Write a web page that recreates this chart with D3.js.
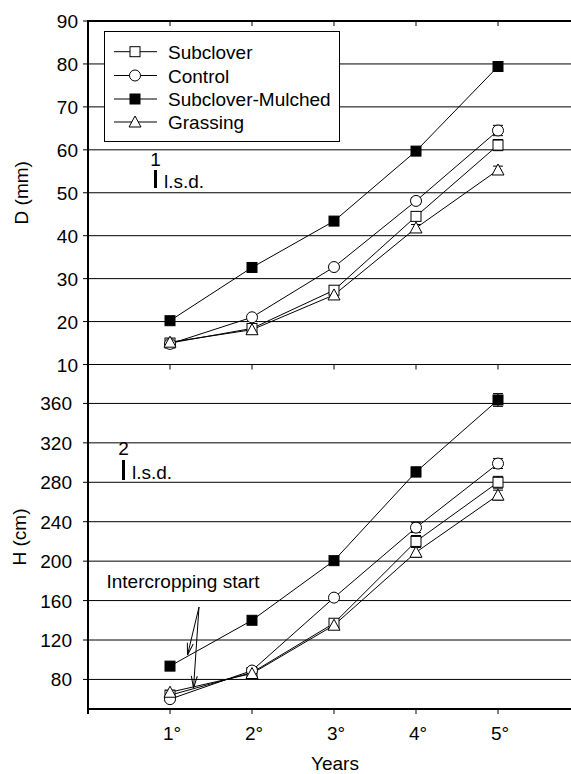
<!DOCTYPE html>
<html>
<head>
<meta charset="utf-8">
<script src="https://cdn.jsdelivr.net/npm/d3@7"></script>
<style>
  html, body { margin: 0; padding: 0; background: #fff; }
  svg { display: block; font-family: "Liberation Sans", Arial, sans-serif; }
</style>
</head>
<body>
<svg id="chart" width="571" height="774"></svg>
<script>
// ---------- DATA ----------
const years = ["1°", "2°", "3°", "4°", "5°"];
const seriesNames = ["Subclover", "Control", "Subclover-Mulched", "Grassing"];
const seriesMarkers = ["square", "circle", "filledSquare", "triangle"];

const dTicks = [10, 20, 30, 40, 50, 60, 70, 80, 90];
const D_subclover = [15.0, 18.4, 27.3, 44.5, 61.1];
const D_control   = [14.8, 21.0, 32.7, 48.1, 64.5];
const D_mulched   = [20.2, 32.6, 43.4, 59.7, 79.4];
const D_grassing  = [15.2, 18.1, 26.2, 41.8, 55.3];
const D_err_subclover = [0.3, 0.3, 0.5, 1.0, 1.3];
const D_err_control   = [0.3, 0.3, 0.5, 0.8, 1.2];
const D_err_mulched   = [0.4, 0.5, 0.6, 0.7, 1.1];
const D_err_grassing  = [0.3, 0.3, 0.5, 0.8, 0.9];

const hTicks = [80, 120, 160, 200, 240, 280, 320, 360];
const H_subclover = [64, 87, 137, 220, 280];
const H_control   = [60, 89, 163, 234, 299];
const H_mulched   = [93.5, 140, 200.5, 290.5, 363.5];
const H_grassing  = [67, 86, 135, 209, 267];
const H_err_subclover = [2, 2, 3, 6, 6];
const H_err_control   = [2, 2, 2, 5, 5];
const H_err_mulched   = [3, 3, 3, 5, 6.5];
const H_err_grassing  = [2, 2, 3, 5, 5];

const lsdD = 1;   // l.s.d. bar values
const lsdH = 2;

// ---------- LAYOUT ----------
const svg = d3.select("#chart");
const left = 88, right = 580;
const x = d3.scaleLinear().domain([0, 6]).range([left, right]);
const yD = d3.scaleLinear().domain([10, 90]).range([364.5, 21]);
const yH = d3.scaleLinear().domain([50, 400]).range([709, 364]);

const FONT = 19;

// grid lines
svg.append("g").selectAll("line").data(dTicks.slice(1, -1)).join("line")
  .attr("x1", left).attr("x2", right)
  .attr("y1", d => yD(d)).attr("y2", d => yD(d))
  .attr("stroke", "#000").attr("stroke-width", 1);
svg.append("g").selectAll("line").data(hTicks).join("line")
  .attr("x1", left).attr("x2", right)
  .attr("y1", d => yH(d)).attr("y2", d => yH(d))
  .attr("stroke", "#000").attr("stroke-width", 1);
// panel separator (D=10 / H=400)
svg.append("line").attr("x1", left).attr("x2", right)
  .attr("y1", yD(10)).attr("y2", yD(10)).attr("stroke", "#000").attr("stroke-width", 1.2);

// top border & bottom axis
svg.append("line").attr("x1", left).attr("x2", right)
  .attr("y1", yD(90)).attr("y2", yD(90)).attr("stroke", "#000").attr("stroke-width", 2);
svg.append("line").attr("x1", left).attr("x2", right)
  .attr("y1", yH(50)).attr("y2", yH(50)).attr("stroke", "#000").attr("stroke-width", 2);
// left axis
svg.append("line").attr("x1", left).attr("x2", left)
  .attr("y1", yD(90) - 1).attr("y2", yH(50) + 5).attr("stroke", "#000").attr("stroke-width", 2);

// y tick marks and labels
svg.append("g").selectAll("line").data(dTicks).join("line")
  .attr("x1", left - 5).attr("x2", left)
  .attr("y1", d => yD(d)).attr("y2", d => yD(d)).attr("stroke", "#000");
svg.append("g").selectAll("text").data(dTicks).join("text")
  .attr("x", 78).attr("y", d => yD(d) + 7)
  .attr("text-anchor", "end").attr("font-size", FONT).text(d => d);
svg.append("g").selectAll("line").data(hTicks).join("line")
  .attr("x1", left - 5).attr("x2", left)
  .attr("y1", d => yH(d)).attr("y2", d => yH(d)).attr("stroke", "#000");
svg.append("g").selectAll("text").data(hTicks).join("text")
  .attr("x", 72).attr("y", d => yH(d) + 7)
  .attr("text-anchor", "end").attr("font-size", FONT).text(d => d);

// x tick marks
const xi = years.map((_, i) => i + 1);
svg.append("g").selectAll("line").data(xi).join("line")
  .attr("x1", d => x(d)).attr("x2", d => x(d))
  .attr("y1", yD(90)).attr("y2", yD(90) + 5).attr("stroke", "#000");
svg.append("g").selectAll("line").data(xi).join("line")
  .attr("x1", d => x(d)).attr("x2", d => x(d))
  .attr("y1", yD(10)).attr("y2", yD(10) + 5).attr("stroke", "#000");
svg.append("g").selectAll("line").data(xi).join("line")
  .attr("x1", d => x(d)).attr("x2", d => x(d))
  .attr("y1", yH(50)).attr("y2", yH(50) + 5).attr("stroke", "#000");
svg.append("g").selectAll("text").data(years).join("text")
  .attr("x", (d, i) => x(i + 1) + 2).attr("y", 740)
  .attr("text-anchor", "middle").attr("font-size", FONT).text(d => d);

// axis titles
svg.append("text").attr("transform", `translate(28,${yD(50)}) rotate(-90)`)
  .attr("text-anchor", "middle").attr("font-size", FONT).text("D (mm)");
svg.append("text").attr("transform", `translate(26,537) rotate(-90)`)
  .attr("text-anchor", "middle").attr("font-size", FONT).text("H (cm)");
svg.append("text").attr("x", 335).attr("y", 770)
  .attr("text-anchor", "middle").attr("font-size", FONT).text("Years");

// ---------- MARKERS ----------
function drawMarker(g, type, cx, cy) {
  if (type === "square" || type === "filledSquare") {
    g.append("rect").attr("x", cx - 5).attr("y", cy - 5).attr("width", 10).attr("height", 10)
      .attr("fill", type === "filledSquare" ? "#000" : "#fff").attr("stroke", "#000").attr("stroke-width", 1);
  } else if (type === "circle") {
    g.append("circle").attr("cx", cx).attr("cy", cy).attr("r", 5.5)
      .attr("fill", "#fff").attr("stroke", "#000").attr("stroke-width", 1);
  } else if (type === "triangle") {
    g.append("path").attr("d", `M${cx},${cy - 6} L${cx + 6},${cy + 5} L${cx - 6},${cy + 5} Z`)
      .attr("fill", "#fff").attr("stroke", "#000").attr("stroke-width", 1);
  }
}

function drawPanel(yScale, valuesList, errList) {
  const line = d3.line().x((d, i) => x(i + 1)).y(d => yScale(d));
  const g = svg.append("g");
  valuesList.forEach((vals, s) => {
    g.append("path").attr("d", line(vals)).attr("fill", "none")
      .attr("stroke", "#000").attr("stroke-width", 1);
  });
  valuesList.forEach((vals, s) => {
    const errs = errList[s];
    vals.forEach((v, i) => {
      const cx = x(i + 1);
      const y1 = yScale(v + errs[i]), y0 = yScale(v - errs[i]);
      g.append("line").attr("x1", cx).attr("x2", cx).attr("y1", y1).attr("y2", y0).attr("stroke", "#000");
      g.append("line").attr("x1", cx - 5).attr("x2", cx + 5).attr("y1", y1).attr("y2", y1).attr("stroke", "#000");
      g.append("line").attr("x1", cx - 5).attr("x2", cx + 5).attr("y1", y0).attr("y2", y0).attr("stroke", "#000");
    });
  });
  valuesList.forEach((vals, s) => {
    vals.forEach((v, i) => drawMarker(g, seriesMarkers[s], x(i + 1), yScale(v)));
  });
}

drawPanel(yD, [D_subclover, D_control, D_mulched, D_grassing],
  [D_err_subclover, D_err_control, D_err_mulched, D_err_grassing]);
drawPanel(yH, [H_subclover, H_control, H_mulched, H_grassing],
  [H_err_subclover, H_err_control, H_err_mulched, H_err_grassing]);

// ---------- LEGEND ----------
const lg = svg.append("g");
lg.append("rect").attr("x", 104.5).attr("y", 31.5).attr("width", 235).attr("height", 110)
  .attr("fill", "#fff").attr("stroke", "#000").attr("stroke-width", 1);
const rowY = [51.7, 75.5, 99, 122];
seriesNames.forEach((name, s) => {
  const ry = rowY[s];
  lg.append("line").attr("x1", 114).attr("x2", 157).attr("y1", ry).attr("y2", ry).attr("stroke", "#000");
  drawMarker(lg, seriesMarkers[s], 135, ry);
  lg.append("text").attr("x", 168).attr("y", ry + 7).attr("font-size", FONT).text(name);
});

// ---------- l.s.d. annotations ----------
svg.append("text").attr("x", 155.5).attr("y", 166).attr("text-anchor", "middle").attr("font-size", FONT).text(lsdD);
svg.append("line").attr("x1", 155.5).attr("x2", 155.5).attr("y1", 170).attr("y2", 188)
  .attr("stroke", "#000").attr("stroke-width", 3);
svg.append("text").attr("x", 164).attr("y", 188).attr("font-size", FONT).text("l.s.d.");

svg.append("text").attr("x", 123.5).attr("y", 455).attr("text-anchor", "middle").attr("font-size", FONT).text(lsdH);
svg.append("line").attr("x1", 123.5).attr("x2", 123.5).attr("y1", 460).attr("y2", 480)
  .attr("stroke", "#000").attr("stroke-width", 3);
svg.append("text").attr("x", 132).attr("y", 479).attr("font-size", FONT).text("l.s.d.");

// ---------- Intercropping start ----------
svg.append("text").attr("x", 106.5).attr("y", 588).attr("font-size", FONT).text("Intercropping start");
function arrow(x1, y1, x2, y2) {
  const ang = Math.atan2(y2 - y1, x2 - x1) * 180 / Math.PI;
  svg.append("line").attr("x1", x1).attr("y1", y1).attr("x2", x2).attr("y2", y2)
    .attr("stroke", "#000").attr("stroke-width", 1);
  svg.append("path")
    .attr("d", "M-12,-3 L0,0 L-12,3")
    .attr("transform", `translate(${x2},${y2}) rotate(${ang})`)
    .attr("fill", "none").attr("stroke", "#000").attr("stroke-width", 1);
}
arrow(199, 607, 187.5, 655);
arrow(199, 607, 193.5, 688);
</script>
</body>
</html>
